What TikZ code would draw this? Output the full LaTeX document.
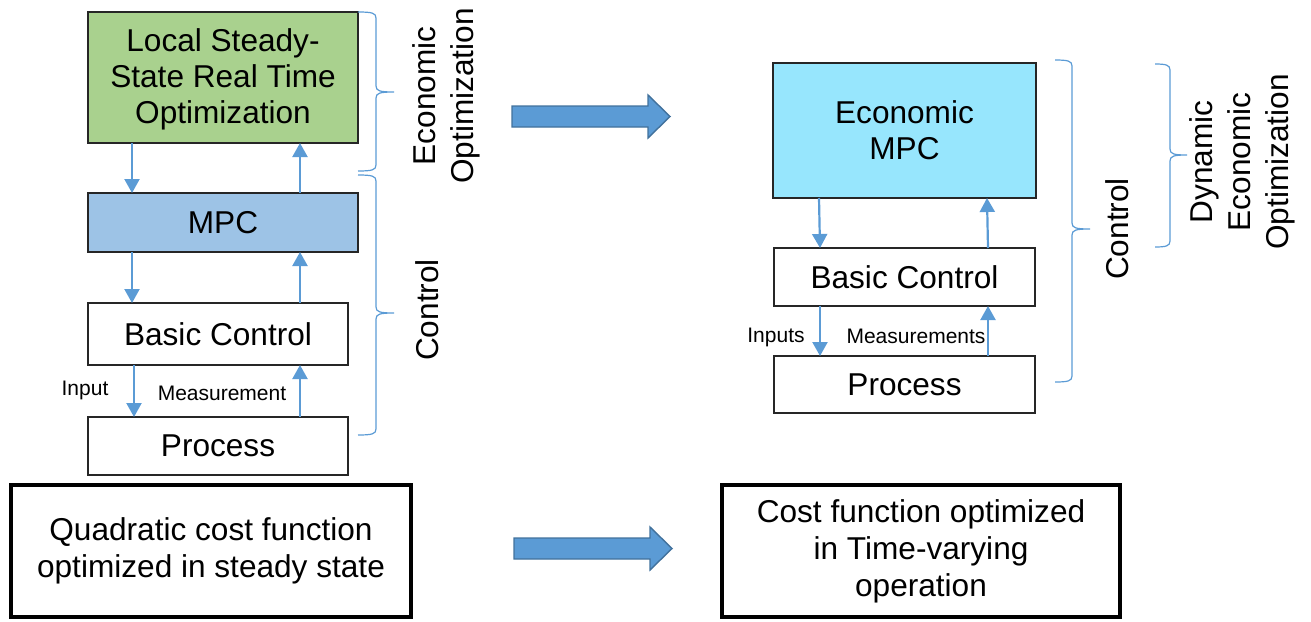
\documentclass[tikz,border=0pt]{standalone}
\usepackage{fontspec}
\setmainfont{Liberation Sans}
\usetikzlibrary{arrows.meta,calc}
\definecolor{lnblue}{HTML}{5B9BD5}
\definecolor{arrdark}{HTML}{41719C}
\definecolor{boxgreen}{HTML}{A9D18E}
\definecolor{boxblue}{HTML}{9DC3E6}
\definecolor{boxcyan}{HTML}{97E6FD}
\newcommand\mybrace[6]{% x0 x1 x2 ytop ytip ybot
  \draw[bracestyle] (#1,#4) .. controls ({#2-4},#4) and (#2,{#4+1}) .. (#2,{#4+6})
    -- (#2,{#5-6}) .. controls (#2,{#5-1}) and ({#2+4},#5) .. (#3,#5)
    .. controls ({#2+4},#5) and (#2,{#5+1}) .. (#2,{#5+6})
    -- (#2,{#6-6}) .. controls (#2,{#6-1}) and ({#2-4},#6) .. (#1,#6);}
\newcommand\bigarrow[6]{% xl xh xt yb1 yb2 yh1
  \draw[bigarr] (#1,#4) -- (#2,#4) -- (#2,#6) -- (#3,{(#4+#5)/2}) -- (#2,{#6+(#5-#4)+2*(#4-#6)}) -- (#2,#5) -- (#1,#5) -- cycle;}
\begin{document}
\begin{tikzpicture}[x=1pt,y=-1pt,
  box/.style={draw=black!85, line width=1.6pt, inner sep=0pt, outer sep=0pt, align=center,
    font=\fontsize{31.6}{36}\selectfont},
  bigbox/.style={draw=black, line width=3.2pt, inner sep=0pt, outer sep=0pt, align=center,
    font=\fontsize{31.6}{37}\selectfont},
  conn/.style={draw=lnblue, line width=2.2pt, -{Triangle[width=15pt,length=14pt]}},
  lbl/.style={font=\fontsize{21}{24}\selectfont, inner sep=0pt},
  side/.style={rotate=90, align=center, inner sep=0pt, font=\fontsize{31.6}{38}\selectfont},
  bracestyle/.style={draw=lnblue, line width=1.2pt},
  bigarr/.style={fill=lnblue, draw=arrdark, line width=1.4pt, line join=miter}]
\useasboundingbox (0,0) rectangle (1311,621);
% left stack
\node[box, fill=boxgreen, minimum width=270pt, minimum height=131pt] (lsrto) at (223,77.5) {};
\node[align=center, inner sep=0pt, font=\fontsize{31.6}{36}\selectfont] (lsrtotxt) at (223,79.5)
  {Local Steady-\\State Real Time\\Optimization};
\node[box, fill=boxblue, minimum width=270pt, minimum height=59pt] (mpc) at (223,222.5) {MPC};
\node[box, minimum width=260pt, minimum height=62pt] (basicL) at (218,334) {Basic Control};
\node[box, minimum width=260pt, minimum height=58pt] (procL) at (218,446) {Process};
\draw[conn] ([xshift=44pt]lsrto.south west) -- ([xshift=44pt]mpc.north west);
\draw[conn] ([xshift=212pt]mpc.north west) -- ([xshift=212pt]lsrto.south west);
\draw[conn] ([xshift=44pt]mpc.south west) -- ([xshift=44pt]basicL.north west);
\draw[conn] ([xshift=212pt]basicL.north west) -- ([xshift=212pt]mpc.south west);
\draw[conn] ([xshift=46pt]basicL.south west) -- ([xshift=46pt]procL.north west);
\draw[conn] ([xshift=212pt]procL.north west) -- ([xshift=212pt]basicL.south west);
\node[lbl] (inL) at (85,390) {Input};
\node[lbl] (measL) at (222,393) {Measurement};
\mybrace{358}{376}{394}{12}{92}{171}
\mybrace{358}{376}{394}{175}{313}{435}
\node[side] (ecoL) at (446,96) {Economic\\Optimization};
\node[side] (ctrlL) at (427,310) {Control};
% right stack
\node[box, fill=boxcyan, minimum width=263pt, minimum height=135pt] (empc) at (904.5,130.5) {Economic\\MPC};
\node[box, minimum width=261pt, minimum height=58pt] (basicR) at (904.5,277) {Basic Control};
\node[box, minimum width=261pt, minimum height=57pt] (procR) at (904.5,384.5) {Process};
\draw[conn] ([xshift=46pt]empc.south west) -- ([xshift=46pt]basicR.north west);
\draw[conn] ([xshift=214pt]basicR.north west) -- ([xshift=214pt]empc.south west);
\draw[conn] ([xshift=46pt]basicR.south west) -- ([xshift=46pt]procR.north west);
\draw[conn] ([xshift=214pt]procR.north west) -- ([xshift=214pt]basicR.south west);
\node[lbl] (inR) at (776,337) {Inputs};
\node[lbl] (measR) at (916,336) {Measurements};
\mybrace{1055}{1072}{1090}{60}{229}{382}
\mybrace{1155}{1170}{1187}{64}{155}{247}
\node[side] (ctrlR) at (1117,229) {Control};
\node[side] (dynR) at (1242,162) {Dynamic\\Economic\\Optimization};
% big arrows
\bigarrow{512}{648}{670}{106}{127}{95}
\bigarrow{514}{650}{672}{538}{559}{527}
% bottom boxes
\node[bigbox, minimum width=400pt, minimum height=132pt] (costL) at (211,551)
  {Quadratic cost function\\optimized in steady state};
\node[bigbox, minimum width=398pt, minimum height=132pt] (costR) at (921,551)
  {Cost function optimized\\in Time-varying\\operation};
\end{tikzpicture}
\end{document}
